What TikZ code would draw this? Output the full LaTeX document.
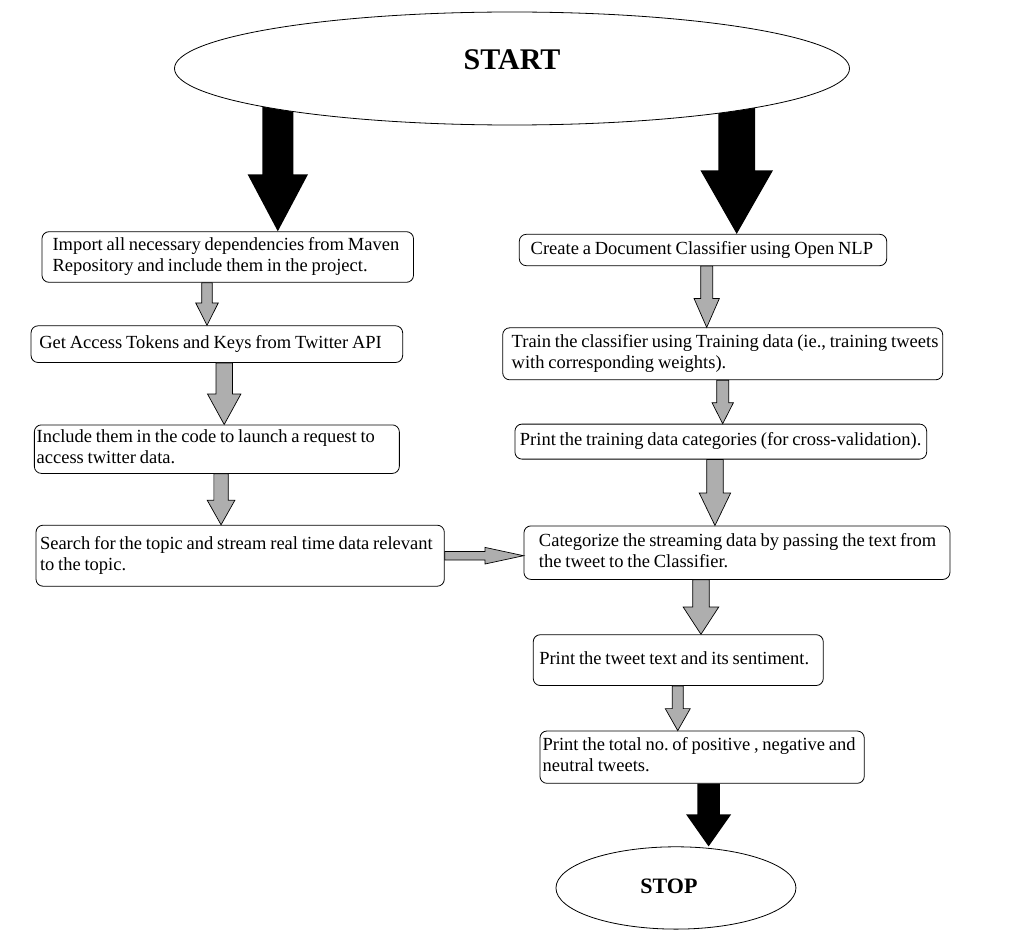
\documentclass[tikz,border=0pt]{standalone}
\usepackage{fontspec}
\setmainfont{Liberation Serif}
\usetikzlibrary{positioning, calc, shapes.geometric, backgrounds}
\definecolor{arrowgray}{RGB}{174,174,174}
\newcommand{\steptext}[1]{\frenchspacing\setlength{\spaceskip}{3.8pt}%
    \begin{tabular}{@{}l@{}}#1\end{tabular}}

\begin{document}
\begin{tikzpicture}[x=1pt, y=-1pt,
        stepbox/.style={draw, line width=0.8pt, rounded corners=7pt, align=left,
            inner ysep=0pt, font=\fontsize{18.5}{21}\selectfont},
        term/.style={ellipse, draw, fill=white, line width=0.8pt, inner sep=0pt},
        garrow/.style={draw, fill=arrowgray, line width=0.7pt},
        fat/.style n args={3}{to path={let \p1=(\tikztostart), \p2=(\tikztotarget) in
            (\x1-#1,\y1) -- (\x1+#1,\y1) -- (\x1+#1,\y2+#3) -- (\x1+#2,\y2+#3)
            -- (\x1,\y2) -- (\x1-#2,\y2+#3) -- (\x1-#1,\y2+#3) -- cycle}},
        sidefat/.style n args={3}{to path={let \p1=(\tikztostart), \p2=(\tikztotarget) in
            (\x1,\y1-#1) -- (\x2-#3,\y1-#1) -- (\x2-#3,\y1-#2) -- (\x2,\y1)
            -- (\x2-#3,\y1+#2) -- (\x2-#3,\y1+#1) -- (\x1,\y1+#1) -- cycle}}]
        \useasboundingbox (0,0) rectangle (1030,952);

        % Nodes
        \node[term, minimum width=675pt, minimum height=113pt, text depth=17pt,
            font=\bfseries\fontsize{30}{36}\selectfont] (start) at (512,68.5) {START};

        \node[stepbox, text width=350.5pt, inner xsep=10.5pt, minimum height=50.6pt] (imp) at (227.75,257)
            {\steptext{Import all necessary dependencies from Maven\\Repository and include them in the project.}};
        \node[stepbox, text width=355pt, inner xsep=8.3pt, minimum height=36.7pt, below=42.7pt of imp, xshift=-10.9pt] (acc)
            {\steptext{Get Access Tokens and Keys from Twitter API}};
        \node[stepbox, text width=360.4pt, inner xsep=2.3pt, minimum height=48.5pt, below=61.6pt of acc] (inc)
            {\steptext{Include them in the code to launch a request to\\access twitter data.}};
        \node[stepbox, text width=400.3pt, inner xsep=4pt, minimum height=61pt, below=51pt of inc, xshift=23.3pt] (sea)
            {\steptext{Search for the topic and stream real time data relevant\\to the topic.}};

        \node[stepbox, text width=344.6pt, inner xsep=11.4pt, minimum height=31.4pt] (cre) at (703,250)
            {\steptext{Create a Document Classifier using Open NLP}};
        \node[stepbox, text width=422pt, inner xsep=9pt, minimum height=52pt, below=61.3pt of cre, xshift=19.7pt] (tra)
            {\steptext{Train the classifier using Training data (ie., training tweets\\with corresponding weights).}};
        \node[stepbox, text width=401.7pt, inner xsep=5pt, minimum height=35pt, below=43.5pt of tra, xshift=-1.9pt] (prt)
            {\steptext{Print the training data categories (for cross-validation).}};
        \node[stepbox, text width=396pt, inner xsep=15pt, minimum height=53.5pt, below=66pt of prt, xshift=16.15pt] (cat)
            {\steptext{Categorize the streaming data by passing the text from\\the tweet to the Classifier.}};
        \node[stepbox, text width=278pt, inner xsep=6pt, minimum height=50.8pt, below=54.5pt of cat, xshift=-58.7pt] (twt)
            {\steptext{Print the tweet text and its sentiment.}};
        \node[stepbox, text width=318.9pt, inner xsep=2.7pt, minimum height=52.3pt, below=44.7pt of twt, xshift=23.85pt] (tot)
            {\steptext{Print the total no. of positive , negative and\\neutral tweets.}};

        \node[term, minimum width=240pt, minimum height=82.3pt, text depth=3pt,
            font=\bfseries\fontsize{22}{26}\selectfont, below=62.7pt of tot, xshift=-26.15pt] (stop) {STOP\kern14pt};

        % Arrows
        \begin{scope}[on background layer]
            \fill[fat={15.5pt}{30.2pt}{57pt}] ([xshift=-234.2pt]start.center) to (imp.north);
            \fill[fat={18.3pt}{36.3pt}{63.6pt}] ([xshift=224.7pt]start.center) to (cre.north);
        \end{scope}

        \draw[garrow, fat={5.3pt}{11.3pt}{22.5pt}] ([xshift=-20.75pt]imp.south) to (acc.north);
        \draw[garrow, fat={8.2pt}{16.7pt}{30.5pt}] ([xshift=7.35pt]acc.south) to (inc.north);
        \draw[garrow, fat={7.2pt}{13.8pt}{24.5pt}] ([xshift=4.2pt]inc.south) to (sea.north);
        \draw[garrow, sidefat={4.3pt}{8.3pt}{38.5pt}] (sea.east) to (cat.west);

        \draw[garrow, fat={6pt}{12.7pt}{29pt}] ([xshift=3.7pt]cre.south) to (tra.north);
        \draw[garrow, fat={6pt}{10.7pt}{21pt}] (tra.south) to (prt.north);
        \draw[garrow, fat={8.3pt}{15.7pt}{32.5pt}] ([xshift=-5.85pt]prt.south) to (cat.north);
        \draw[garrow, fat={8.3pt}{17.8pt}{27.3pt}] ([xshift=-36pt]cat.south) to (twt.north);
        \draw[garrow, fat={5.5pt}{12.5pt}{22pt}] ([xshift=-0.5pt]twt.south) to (tot.north);
        \fill[fat={11.3pt}{22.5pt}{32pt}] ([xshift=6.5pt]tot.south) to (stop.north);
    \end{tikzpicture}
\end{document}
